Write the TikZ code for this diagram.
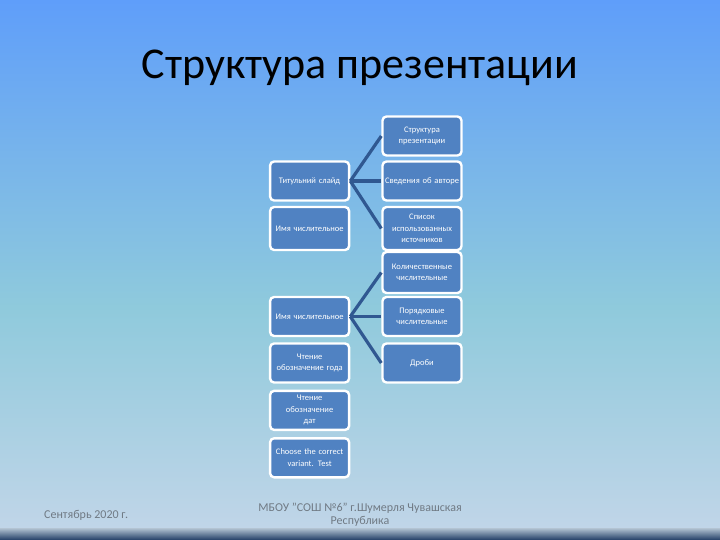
\documentclass[tikz,border=0pt]{standalone}
\usepackage{fontspec}
\setmainfont{Carlito}
\usetikzlibrary{positioning}

\definecolor{fonverh}{RGB}{95,158,250}
\definecolor{fonsered}{RGB}{143,202,220}
\definecolor{fonniz}{RGB}{192,213,232}
\definecolor{blokfill}{RGB}{80,130,194}
\definecolor{liniya}{RGB}{48,88,145}
\definecolor{podval}{RGB}{112,122,132}

\begin{document}
\begin{tikzpicture}[x=1pt, y=-1pt, font=\fontsize{8.5}{11.5}\selectfont,
    blok/.style={draw=white, line width=2.4pt, fill=blokfill, rounded corners=4pt,
      text=white, align=center, minimum width=79pt, minimum height=39pt, text width=76pt, inner sep=1pt},
    svyaz/.style={liniya, line width=3.2pt}]
        \useasboundingbox (0,0) rectangle (720,540);
        % fon
        \shade[top color=fonverh, bottom color=fonsered] (0,0) rectangle (720,307.5);
        \shade[top color=fonsered, bottom color=fonniz] (0,307) rectangle (720,528);
        \shade[top color=fonniz!80!gray, bottom color=liniya!70!black] (0,528) rectangle (720,540);
        \node[font=\fontsize{44}{48}\selectfont] (zagolovok) at (360,68) {Структура презентации};

        % pravyi stolbec
        \node[blok] (struktura) at (422,136) {Структура\\презентации};
        \node[blok] (svedeniya) at (422,181) {Сведения об авторе};
        \node[blok, minimum height=43pt] (spisok) at (422,228.5) {Список\\использованных\\источников};
        \node[blok, minimum height=41pt] (kolich) at (422,272.5) {Количественные\\числительные};
        \node[blok] (poryad) at (422,316.5) {Порядковые\\числительные};
        \node[blok] (drobi) at (422,363) {Дроби};

        % levyi stolbec
        \node[blok, left=31pt of svedeniya] (titul) {Титульний слайд};
        \node[blok, left=31pt of spisok, minimum height=43pt] (imya) {Имя числительное};
        \node[blok, left=31pt of poryad] (imyadva) {Имя числительное};
        \node[blok, left=31pt of drobi] (goda) {Чтение\\обозначение года};
        \node[blok, below=6pt of goda] (dat) {Чтение\\обозначение\\дат};
        \node[blok, below=6pt of dat] (test) {Choose the correct\\variant. Test};

        \draw[svyaz] (titul.east) -- (struktura.west);
        \draw[svyaz] (titul.east) -- (svedeniya.west);
        \draw[svyaz] (titul.east) -- (spisok.west);
        \draw[svyaz] (imyadva.east) -- (kolich.west);
        \draw[svyaz] (imyadva.east) -- (poryad.west);
        \draw[svyaz] (imyadva.east) -- (drobi.west);

        % podval
        \node[text=podval, font=\fontsize{12}{13}\selectfont, anchor=west, inner sep=0pt] (data) at (44,515) {Сентябрь 2020 г.};
        \node[text=podval, font=\fontsize{12}{13}\selectfont, align=center] (shkola) at (360,515)
          {МБОУ "СОШ №6" г.Шумерля Чувашская\\Республика};
      \end{tikzpicture}
\end{document}
